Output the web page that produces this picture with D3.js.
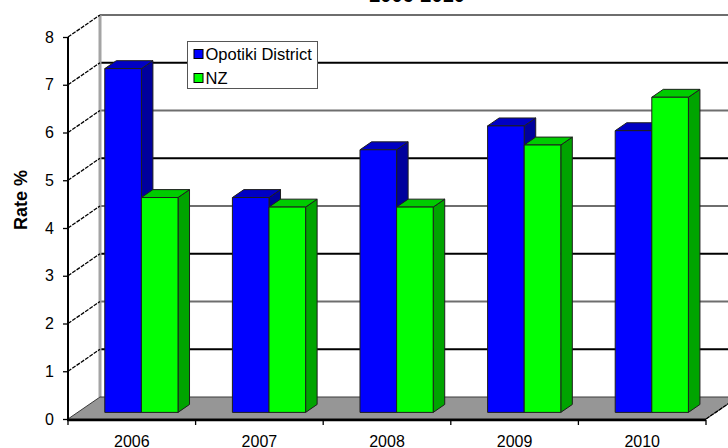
<!DOCTYPE html>
<html>
<head>
<meta charset="utf-8">
<script src="https://cdn.jsdelivr.net/npm/d3@7"></script>
<style>
  html, body { margin: 0; padding: 0; background: #fff; }
  svg { display: block; font-family: "Liberation Sans", Arial, sans-serif; }
</style>
</head>
<body>
<svg id="chart" width="728" height="448"></svg>
<script>
// Rate % by year, Opotiki District vs New Zealand
const years = ["2006", "2007", "2008", "2009", "2010"];
const seriesNames = ["Opotiki District", "NZ"];
const opotikiValues = [7.2, 4.5, 5.5, 6.0, 5.9];
const nzValues = [4.5, 4.3, 4.3, 5.6, 6.6];
const yTickValues = [0, 1, 2, 3, 4, 5, 6, 7, 8];
const titleText = "2006-2010";
const yAxisTitle = "Rate %";

const seriesValues = [opotikiValues, nzValues];
const palette = [
  { front: "#0000ff", top: "#0000c4", side: "#00009c" },
  { front: "#00ff00", top: "#00cc00", side: "#00a400" }
];

const svg = d3.select("#chart");

// Front plane scales
const x0 = d3.scaleBand().domain(years).range([68, 706]);
const x1 = d3.scaleBand().domain(seriesNames).range([0, x0.bandwidth()])
  .paddingInner(0).paddingOuter(0.743);
const y = d3.scaleLinear().domain([0, 8]).range([419, 37]);

// Oblique depth of the plot box
const DX = 32, DY = -22;
const fFront = 0.3, fBack = 0.66;
const proj = (x, v, f) => [x + f * DX, y(v) + f * DY];
const pts = arr => arr.map(p => p.join(",")).join(" ");

// Title (only its last line sits on the page)
svg.append("text")
  .attr("x", 417).attr("y", 1.5)
  .attr("text-anchor", "middle")
  .attr("font-size", 20).attr("font-weight", "bold")
  .text(titleText);

// Back wall gridlines
const backLeft = 68 + DX, backRight = 760;
svg.append("g").selectAll("line")
  .data(yTickValues.filter(v => v > 0))
  .join("line")
  .attr("x1", backLeft).attr("x2", backRight)
  .attr("y1", v => y(v) + DY).attr("y2", v => y(v) + DY)
  .attr("stroke", v => v % 2 ? "#000" : "#6e6e6e")
  .attr("stroke-width", 2);

// Left wall: back edge and diagonal tick guides
svg.append("line")
  .attr("x1", backLeft).attr("x2", backLeft)
  .attr("y1", y(8) + DY).attr("y2", y(0) + DY)
  .attr("stroke", "#a4a4a4").attr("stroke-width", 3);

svg.append("g").selectAll("line")
  .data(yTickValues.filter(v => v > 0))
  .join("line")
  .attr("x1", 68).attr("y1", v => y(v))
  .attr("x2", backLeft).attr("y2", v => y(v) + DY)
  .attr("stroke", "#000").attr("stroke-width", 1.3)
  .attr("stroke-dasharray", "4,1.2");

// Floor
svg.append("polygon")
  .attr("points", pts([[68, y(0)], [706, y(0)], [706 + DX, y(0) + DY], [backLeft, y(0) + DY]]))
  .attr("fill", "#969696").attr("stroke", "#3a3a3a").attr("stroke-width", 1);

svg.append("line")
  .attr("x1", 706).attr("y1", y(0)).attr("x2", 706 + DX).attr("y2", y(0) + DY)
  .attr("stroke", "#000").attr("stroke-width", 1.3)
  .attr("stroke-dasharray", "4,1.2");

// Bars (3D boxes), drawn left to right
const bars = svg.append("g");
years.forEach((yr, i) => {
  seriesNames.forEach((s, j) => {
    const v = seriesValues[j][i];
    const xa = x0(yr) + x1(s), xb = xa + x1.bandwidth();
    const c = palette[j];
    const g = bars.append("g").attr("stroke", "#1e1e1e").attr("stroke-width", 1)
      .attr("stroke-linejoin", "round");
    // right side face
    g.append("polygon")
      .attr("points", pts([proj(xb, 0, fFront), proj(xb, 0, fBack), proj(xb, v, fBack), proj(xb, v, fFront)]))
      .attr("fill", c.side);
    // top face
    g.append("polygon")
      .attr("points", pts([proj(xa, v, fFront), proj(xb, v, fFront), proj(xb, v, fBack), proj(xa, v, fBack)]))
      .attr("fill", c.top);
    // front face
    const [fx, fy] = proj(xa, v, fFront);
    const [, by] = proj(xa, 0, fFront);
    g.append("rect")
      .attr("x", fx).attr("y", fy)
      .attr("width", xb - xa).attr("height", by - fy)
      .attr("fill", c.front);
  });
});

// Y axis
const yAxisG = svg.append("g").attr("transform", "translate(68,0)")
  .call(d3.axisLeft(y).tickValues(yTickValues).tickSize(5).tickPadding(9)
    .tickFormat(d3.format("d")));
yAxisG.select(".domain").remove();
yAxisG.selectAll(".tick line").attr("stroke", "#000").attr("stroke-width", 1.3);
yAxisG.selectAll(".tick text").attr("font-size", 16)
  .attr("font-family", "Liberation Sans, Arial, sans-serif").attr("fill", "#000");
svg.append("line").attr("x1", 68).attr("x2", 68).attr("y1", y(8)).attr("y2", y(0) + 1)
  .attr("stroke", "#000").attr("stroke-width", 2);

// X axis
svg.append("line").attr("x1", 67).attr("x2", 706).attr("y1", y(0) + 1).attr("y2", y(0) + 1)
  .attr("stroke", "#000").attr("stroke-width", 2.5);
const bounds = years.map(yr => x0(yr)).concat([706]);
svg.append("g").selectAll("line").data(bounds).join("line")
  .attr("x1", d => d).attr("x2", d => d)
  .attr("y1", y(0) + 1).attr("y2", y(0) + 6)
  .attr("stroke", "#000").attr("stroke-width", 1.3);
svg.append("g").selectAll("text").data(years).join("text")
  .attr("x", d => x0(d) + x0.bandwidth() / 2)
  .attr("y", 447)
  .attr("text-anchor", "middle")
  .attr("font-size", 16)
  .text(d => d);

// Y axis title
svg.append("text")
  .attr("transform", "translate(27,200) rotate(-90)")
  .attr("text-anchor", "middle")
  .attr("font-size", 18).attr("font-weight", "bold")
  .text(yAxisTitle);

// Legend
const legend = svg.append("g").attr("transform", "translate(187.5,41.5)");
legend.append("rect").attr("width", 130).attr("height", 47)
  .attr("fill", "#fff").attr("stroke", "#555").attr("stroke-width", 1);
seriesNames.forEach((s, j) => {
  const row = legend.append("g").attr("transform", `translate(6.5,${8 + j * 24})`);
  row.append("rect").attr("width", 9).attr("height", 9)
    .attr("fill", palette[j].front).attr("stroke", "#000").attr("stroke-width", 1);
  row.append("text").attr("x", 11.5).attr("y", 10)
    .attr("font-size", 16.5).text(s);
});
</script>
</body>
</html>
